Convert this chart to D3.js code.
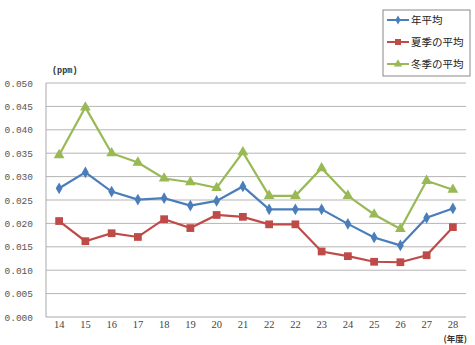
<!DOCTYPE html>
<html>
<head>
<meta charset="utf-8">
<script src="https://cdn.jsdelivr.net/npm/d3@7"></script>
<style>
  body { margin: 0; background: #fff; }
  svg { display: block; }
</style>
</head>
<body>
<div id="chart"></div>
<script>
const years = ['14','15','16','17','18','19','20','21','22','22b','23','24','25','26','27','28'];
const yearLabels = ['14','15','16','17','18','19','20','21','22','22','23','24','25','26','27','28'];
const annual = [0.0275,0.0309,0.0268,0.0251,0.0254,0.0238,0.0248,0.0279,0.0230,0.0230,0.0230,0.0199,0.0170,0.0153,0.0212,0.0232];
const summer = [0.0205,0.0162,0.0179,0.0171,0.0209,0.0190,0.0218,0.0214,0.0198,0.0198,0.0140,0.0130,0.0118,0.0117,0.0132,0.0192];
const winter = [0.0346,0.0448,0.0350,0.0330,0.0296,0.0288,0.0276,0.0352,0.0259,0.0259,0.0318,0.0259,0.0219,0.0188,0.0291,0.0272];
const yTicks = [0,0.005,0.010,0.015,0.020,0.025,0.030,0.035,0.040,0.045,0.050];
const seriesNames = ['年平均','夏季の平均','冬季の平均'];

var margin = {top: 83, right: 9, bottom: 28, left: 46},
    width = 475 - margin.left - margin.right,
    height = 345 - margin.top - margin.bottom;

var svg = d3.select('#chart').append('svg')
  .attr('width', 475).attr('height', 345);
var g = svg.append('g').attr('transform', 'translate(' + margin.left + ',' + margin.top + ')');

var x = d3.scaleBand().domain(years).range([0, width]);
var y = d3.scaleLinear().domain([0, 0.05]).range([height, 0]);

// gridlines
g.selectAll('.grid').data(yTicks.slice(1)).enter().append('line')
  .attr('x1', 0).attr('x2', width)
  .attr('y1', d => y(d)).attr('y2', d => y(d))
  .attr('stroke', '#b4b4b4').attr('stroke-width', 1);

// axes lines
g.append('line').attr('x1', 0).attr('x2', 0).attr('y1', 0).attr('y2', height)
  .attr('stroke', '#a8a8a8');
g.append('line').attr('x1', 0).attr('x2', width).attr('y1', height).attr('y2', height)
  .attr('stroke', '#a8a8a8');

// y labels
g.selectAll('.ylab').data(yTicks).enter().append('text')
  .attr('x', -13).attr('y', d => y(d) + 3.5)
  .attr('text-anchor', 'end')
  .style('font-family', 'Liberation Mono, DejaVu Sans Mono, monospace')
  .style('font-size', '9.5px').style('fill', '#555')
  .text(d => d.toFixed(3));

g.append('text').attr('x', 6).attr('y', -10)
  .style('font-family', 'Liberation Mono, monospace')
  .style('font-size', '8.5px').style('fill', '#333').style('font-weight', 'bold')
  .text('(ppm)');

// x labels
g.selectAll('.xlab').data(years).enter().append('text')
  .attr('x', d => x(d) + x.bandwidth() / 2).attr('y', height + 11)
  .attr('text-anchor', 'middle')
  .style('font-family', 'Liberation Serif, serif')
  .style('font-size', '10.5px').style('fill', '#444')
  .text((d, i) => yearLabels[i]);

g.append('text').attr('x', width + 1).attr('y', height + 25)
  .attr('text-anchor', 'end')
  .style('font-family', 'Noto Sans CJK JP, sans-serif')
  .style('font-size', '8.5px').style('fill', '#333').style('font-weight', 'bold')
  .text('(年度)');

var series = [
  {name: seriesNames[0], values: annual, color: '#4a7ebb', shape: d3.symbolDiamond, size: 40},
  {name: seriesNames[1], values: summer, color: '#be4b48', shape: d3.symbolSquare, size: 60},
  {name: seriesNames[2], values: winter, color: '#98b954', shape: d3.symbolTriangle, size: 50}
];

var line = d3.line()
  .x((d, i) => x(years[i]) + x.bandwidth() / 2)
  .y(d => y(d));

series.forEach(function(s) {
  g.append('path').datum(s.values)
    .attr('d', line).attr('fill', 'none')
    .attr('stroke', s.color).attr('stroke-width', 2.2);
  g.selectAll(null).data(s.values).enter().append('path')
    .attr('d', d3.symbol().type(s.shape).size(s.size))
    .attr('transform', (d, i) => 'translate(' + (x(years[i]) + x.bandwidth() / 2) + ',' + y(d) + ')')
    .attr('fill', s.color);
});

// legend
var lg = svg.append('g').attr('transform', 'translate(383,10)');
lg.append('rect').attr('width', 87).attr('height', 66)
  .attr('fill', '#fff').attr('stroke', '#888');
series.forEach(function(s, i) {
  var yy = 10 + i * 22;
  lg.append('line').attr('x1', 4).attr('x2', 26).attr('y1', yy).attr('y2', yy)
    .attr('stroke', s.color).attr('stroke-width', 2);
  lg.append('path').attr('d', d3.symbol().type(s.shape).size(s.size * 0.6))
    .attr('transform', 'translate(15,' + yy + ')').attr('fill', s.color);
  lg.append('text').attr('x', 28).attr('y', yy + 4)
    .style('font-family', 'Noto Sans CJK JP, sans-serif')
    .style('font-size', '10.5px').style('fill', '#222')
    .text(s.name);
});
</script>
</body>
</html>
